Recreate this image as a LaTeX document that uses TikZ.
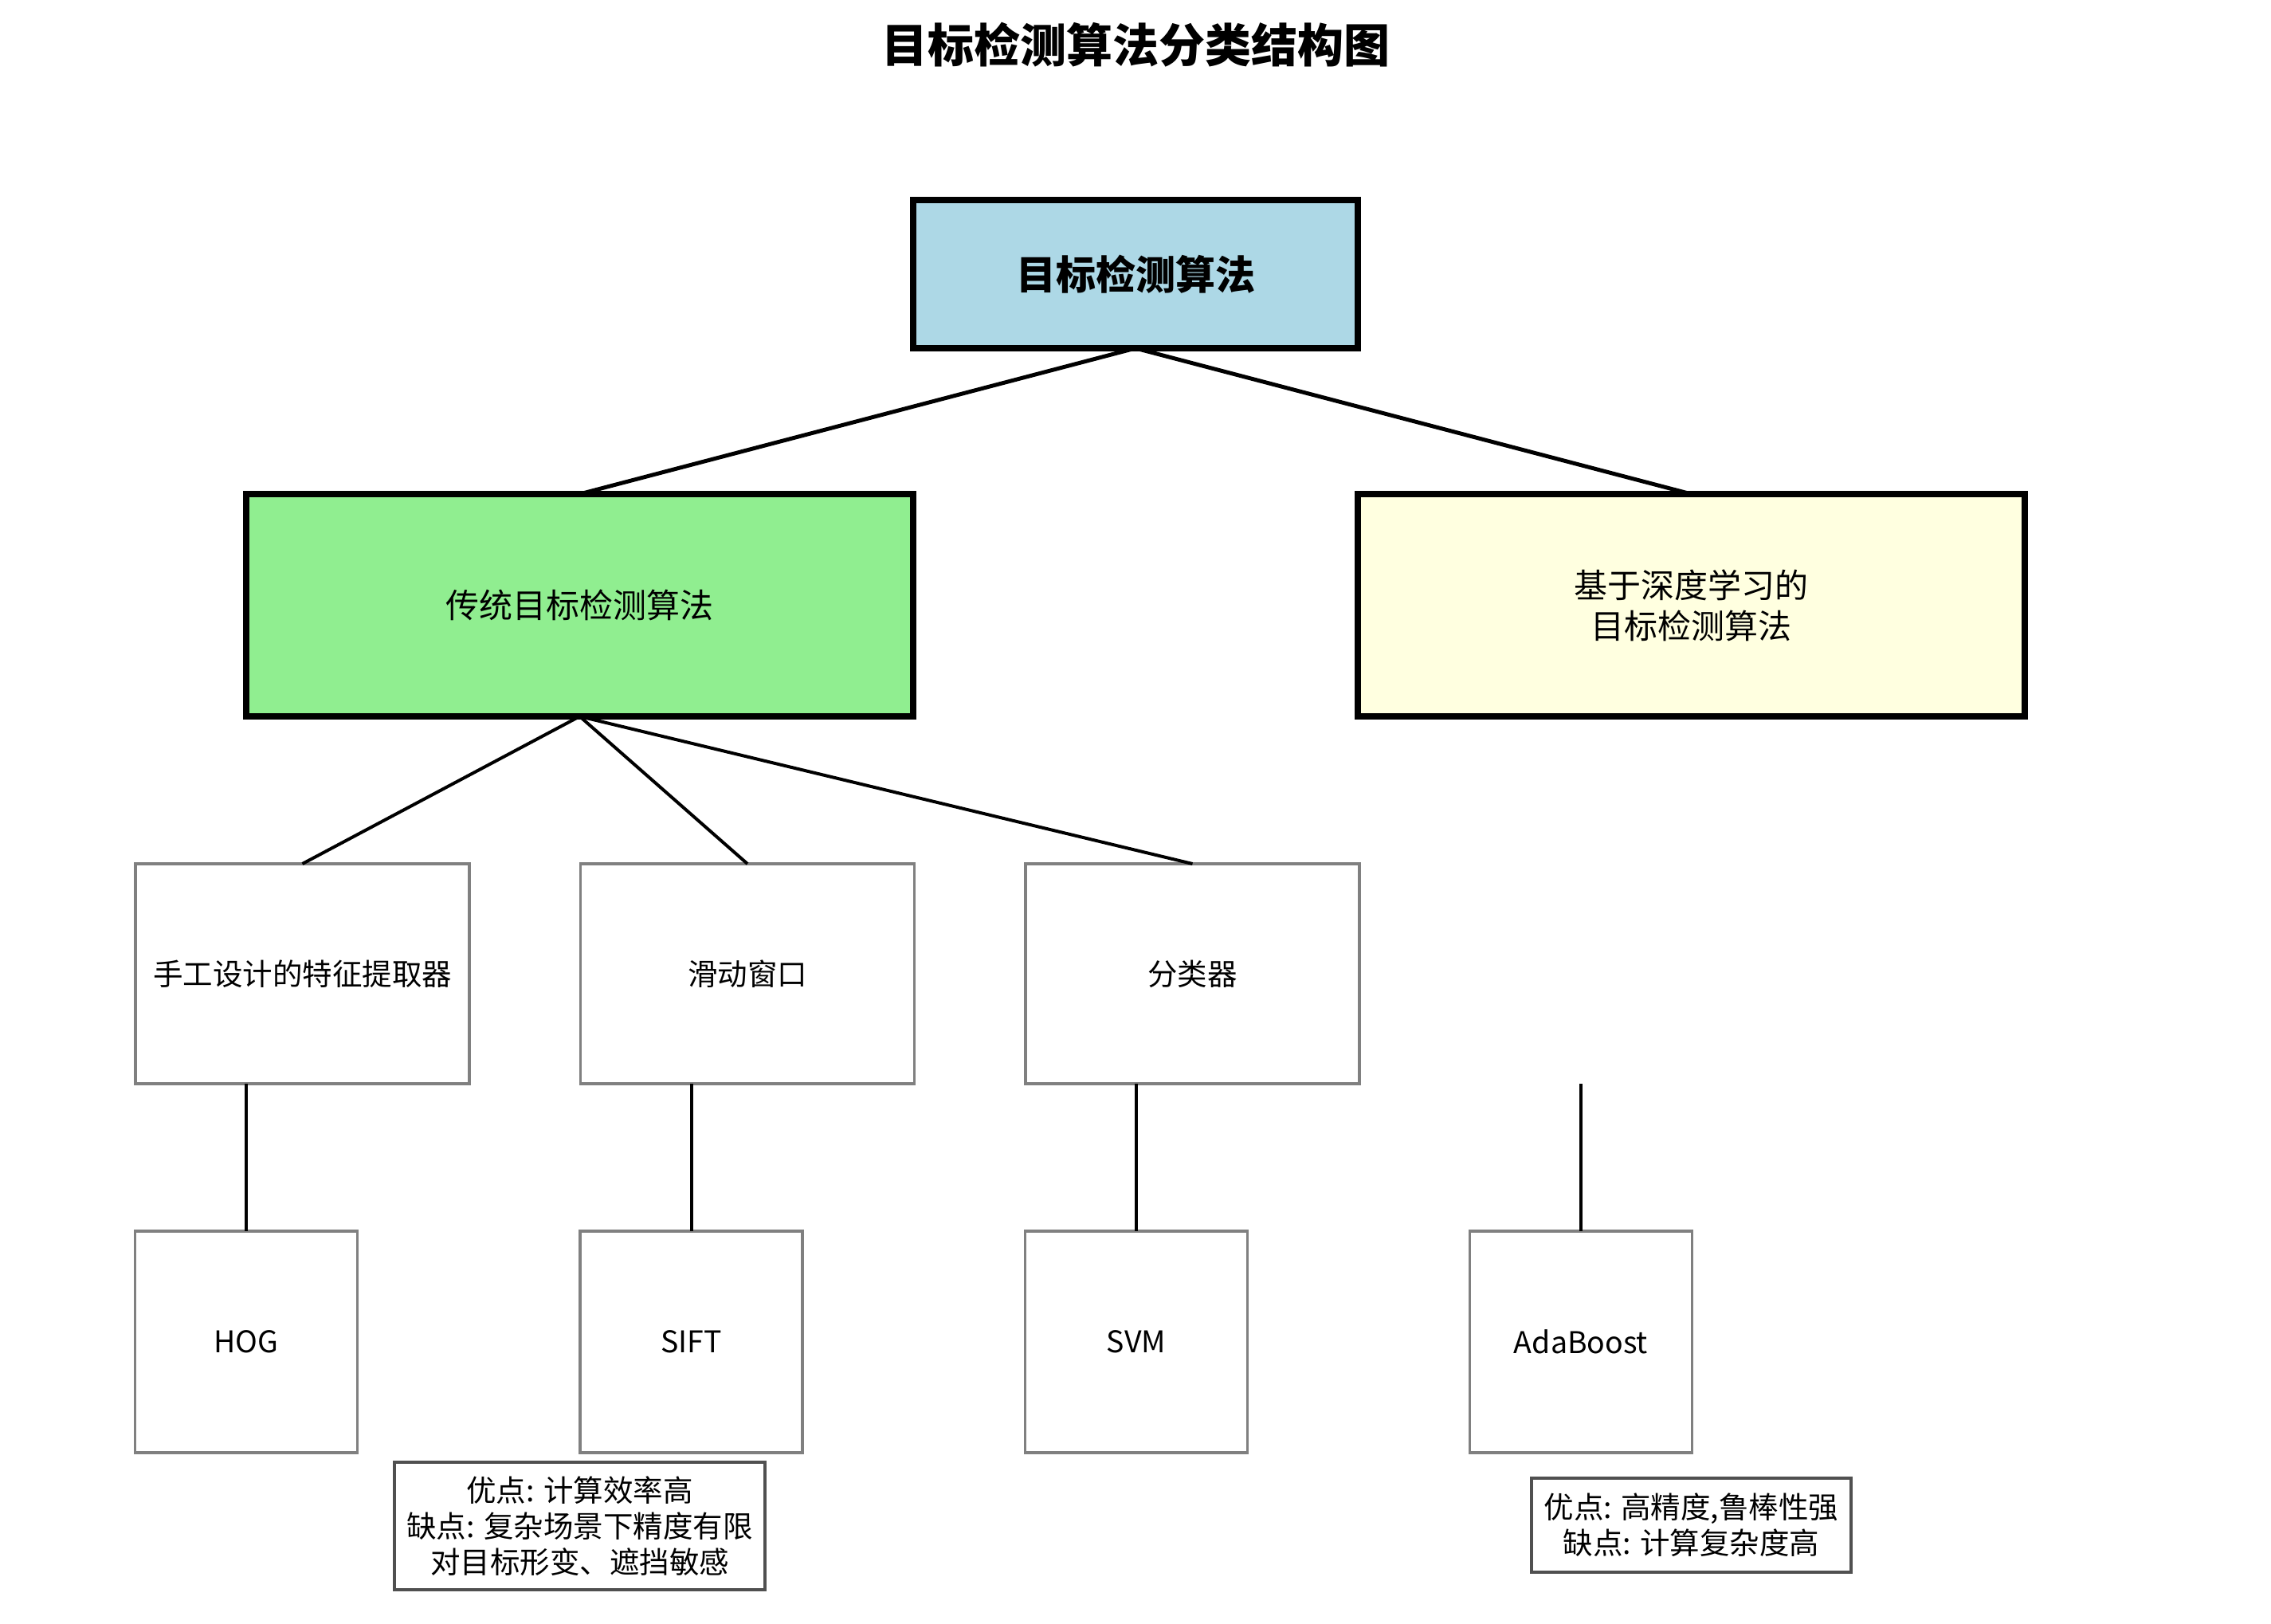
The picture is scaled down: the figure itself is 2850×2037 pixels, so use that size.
\documentclass[tikz,border=0pt]{standalone}
\usepackage{fontspec}
\setmainfont{Noto Sans CJK SC}
\definecolor{rootfill}{HTML}{ADD8E6}
\definecolor{tradfill}{HTML}{90EE90}
\definecolor{deepfill}{HTML}{FFFFE0}
\definecolor{subgray}{HTML}{808080}
\definecolor{notegray}{HTML}{505050}
\begin{document}
\begin{tikzpicture}[x=1pt,y=-1pt,
  every node/.style={inner sep=0pt,outer sep=0pt,align=center},
  mainbox/.style={draw=black,line width=8pt,rectangle},
  subbox/.style={draw=subgray,line width=3.5pt,fill=white,rectangle,minimum width=419pt,minimum height=276pt,font=\fontsize{37.5}{45}\selectfont},
  leafbox/.style={draw=subgray,line width=3.5pt,fill=white,rectangle,minimum width=279pt,minimum height=278pt,font=\fontsize{37.5}{45}\selectfont},
  notebox/.style={draw=notegray,line width=3.5pt,fill=white,rectangle,font=\fontsize{37.5}{45}\selectfont},
  toplink/.style={draw=black,line width=5pt},
  link/.style={draw=black,line width=4pt}
]
\useasboundingbox (0,0) rectangle (2850,2037);
\fill[white] (0,0) rectangle (2850,2037);

\node (title) at (1425,56) {\fontsize{58}{64}\selectfont\bfseries 目标检测算法分类结构图};

\node[mainbox,fill=rootfill,minimum width=558pt,minimum height=186pt,font=\fontsize{50}{58}\selectfont\bfseries] (root) at (1425,344) {目标检测算法};
\node[mainbox,fill=tradfill,minimum width=837pt,minimum height=279pt,font=\fontsize{42}{51}\selectfont] (trad) at (727.5,759.5) {传统目标检测算法};
\node[mainbox,fill=deepfill,minimum width=837pt,minimum height=279pt,font=\fontsize{42}{51}\selectfont] (deep) at (2122.5,759.5) {基于深度学习的\\目标检测算法};

\node[subbox] (s1) at (379.5,1222) {手工设计的特征提取器};
\node[subbox] (s2) at (938,1222) {滑动窗口};
\node[subbox] (s3) at (1496.5,1222) {分类器};

\node[leafbox] (l1) at (309,1684) {HOG};
\node[leafbox] (l2) at (867.5,1684) {SIFT};
\node[leafbox] (l3) at (1426,1684) {SVM};
\node[leafbox] (l4) at (1984,1684) {AdaBoost};

\node[notebox,minimum width=465pt,minimum height=160pt] (n1) at (727.5,1915) {优点: 计算效率高\\缺点: 复杂场景下精度有限\\对目标形变、遮挡敏感};
\node[notebox,minimum width=401pt,minimum height=118pt] (n2) at (2122.5,1914) {优点: 高精度,鲁棒性强\\缺点: 计算复杂度高};

\coordinate (v1) at (309,1360);
\coordinate (v2) at (867.5,1360);
\coordinate (v3) at (1426,1360);
\coordinate (v4) at (1984,1360);

\draw[toplink] (root.south) -- (trad.north);
\draw[toplink] (root.south) -- (deep.north);
\draw[link] (trad.south) -- (s1.north);
\draw[link] (trad.south) -- (s2.north);
\draw[link] (trad.south) -- (s3.north);
\draw[link] (v1) -- (l1.north);
\draw[link] (v2) -- (l2.north);
\draw[link] (v3) -- (l3.north);
\draw[link] (v4) -- (l4.north);
\end{tikzpicture}
\end{document}
